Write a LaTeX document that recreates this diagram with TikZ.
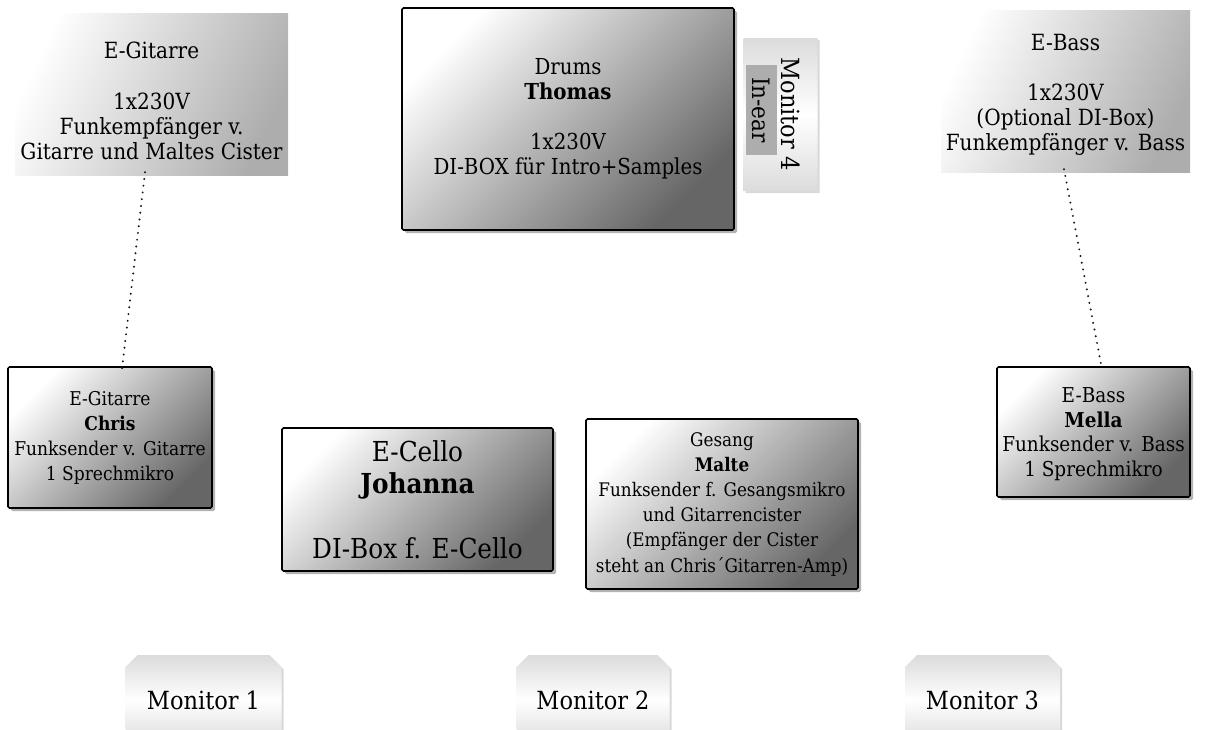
\documentclass[tikz,border=0pt]{standalone}
\usepackage{fontspec}
\setmainfont{DejaVu Serif Condensed}
\usetikzlibrary{shadows,shapes.misc}
\begin{document}
\begin{tikzpicture}[x=1pt,y=-1pt,
  toptxt/.style={align=center,font=\fontsize{22.3}{25.3}\selectfont,inner sep=0pt},
  midtxt/.style={align=center,font=\fontsize{19}{25}\selectfont,inner sep=0pt},
  bigtxt/.style={align=center,font=\fontsize{27.5}{32.5}\selectfont},
  darkbox/.style={draw=black,line width=1.6pt,rounded corners=1.5pt,inner sep=0pt,
    top color=white,bottom color=black!60,shading angle=45,
    drop shadow={shadow xshift=3pt,shadow yshift=-3pt,fill=black!50,opacity=0.6}},
  lightbox/.style={inner sep=0pt,top color=white,bottom color=black!32,shading angle=65},
  monbox/.style={chamfered rectangle,chamfered rectangle xsep=6pt,chamfered rectangle ysep=6pt,
    inner sep=0pt,top color=black!14,bottom color=black!14,middle color=white,
    drop shadow={shadow xshift=2pt,shadow yshift=-2pt,fill=black!30,opacity=0.5},
    font=\fontsize{25}{30}\selectfont},
  link/.style={line width=2.2pt,dash pattern=on 0pt off 6.8pt,line cap=round,draw=black!90}
]
\useasboundingbox (0,0) rectangle (1205,729);

% top row
\node[lightbox,minimum width=273pt,minimum height=162pt] (egt) at (151.5,94) {};
\node[toptxt] (egtt) at ([yshift=-7pt]egt.center)
  {E-Gitarre\\[25.3pt]1x230V\\Funkempfänger v.\\Gitarre und Maltes Cister};
\node[darkbox,toptxt,font=\fontsize{22}{25}\selectfont,minimum width=332pt,minimum height=222pt] (drums) at (568,119)
  {Drums\\\textbf{Thomas}\\[25pt]1x230V\\DI-BOX für Intro+Samples};
\node[monbox,minimum width=74pt,minimum height=153pt] (mon4) at (780.5,114.5) {};
\node[rotate=-90,font=\fontsize{25}{30}\selectfont,inner sep=0pt] (mon4t) at (791,114) {Monitor 4};
\node[rotate=-90,fill=black!32,minimum width=90pt,minimum height=31pt,inner sep=0pt,
  font=\fontsize{24}{28}\selectfont] (inear) at (761.5,110) {In-ear};
\node[lightbox,minimum width=249pt,minimum height=162pt] (ebt) at (1065.5,91) {};
\node[toptxt] (ebtt) at ([yshift=-4pt]ebt.center)
  {E-Bass\\[24.5pt]1x230V\\(Optional DI-Box)\\Funkempfänger v. Bass};

% middle row
\node[darkbox,midtxt,minimum width=204pt,minimum height=141pt] (chris) at (110,437.5)
  {E-Gitarre\\\textbf{Chris}\\Funksender v. Gitarre\\1 Sprechmikro};
\node[darkbox,bigtxt,minimum width=271pt,minimum height=143pt] (cello) at (417.5,499.5)
  {E-Cello\\\textbf{Johanna}\\[32.5pt]DI-Box f. E-Cello};
\node[darkbox,midtxt,font=\fontsize{18.7}{25.2}\selectfont,minimum width=272pt,minimum height=170pt] (malte) at (722,504)
  {Gesang\\\textbf{Malte}\\Funksender f. Gesangsmikro\\und Gitarrencister\\(Empfänger der Cister\\steht an Chris´Gitarren-Amp)};
\node[darkbox,minimum width=193pt,minimum height=130pt] (mella) at (1093.5,432) {};
\node[midtxt,font=\fontsize{20.5}{24.6}\selectfont] (mellat) at ([yshift=-2pt]mella.center)
  {E-Bass\\\textbf{Mella}\\Funksender v. Bass\\1 Sprechmikro};

% monitors
\node[monbox,minimum width=156pt,minimum height=90pt] (mon1) at (203.5,700) {Monitor 1};
\node[monbox,minimum width=153pt,minimum height=90pt] (mon2) at (593,700) {Monitor 2};
\node[monbox,minimum width=155pt,minimum height=90pt] (mon3) at (982.5,700) {Monitor 3};

% dotted links
\draw[link] ([xshift=-6.5pt,yshift=3pt]egt.south) -- ([xshift=12pt,yshift=-3pt]chris.north);
\draw[link] ([xshift=-1.5pt,yshift=3pt]ebt.south) -- ([xshift=8.5pt,yshift=-3pt]mella.north);
\end{tikzpicture}
\end{document}
